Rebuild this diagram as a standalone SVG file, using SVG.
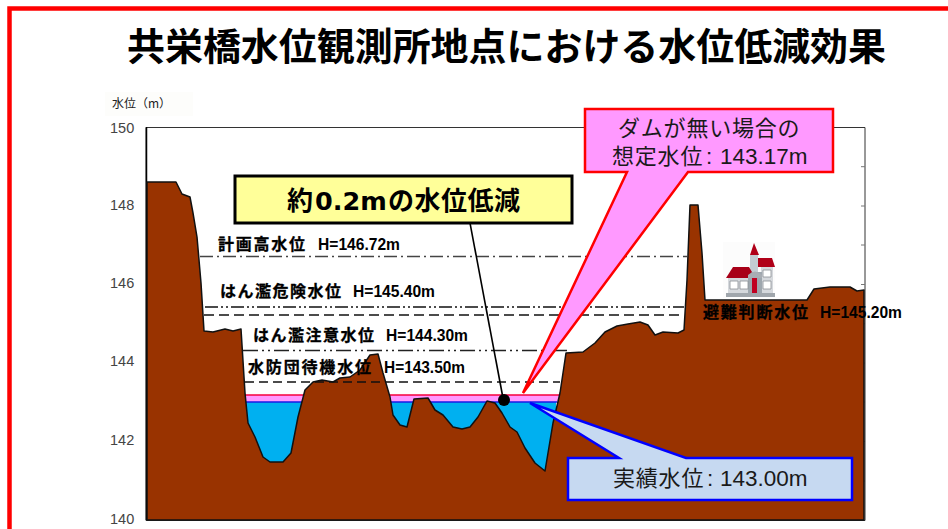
<svg xmlns="http://www.w3.org/2000/svg" width="948" height="529" viewBox="0 0 948 529">
<style>
text{font-family:"Liberation Sans","Noto Sans CJK JP",sans-serif;fill:#111}
.jp{font-family:"Noto Sans CJK JP","Liberation Sans",sans-serif}
.lv{font-size:16px;font-weight:700;fill:#000;stroke:#000;stroke-width:.3}
.lh{font-size:16.500px;font-weight:700;fill:#000}
.ax{font-size:14.500px;fill:#444}
.cj{font-size:22px;fill:#1a1a1a;letter-spacing:.8px}
.cl{font-family:"Liberation Sans",sans-serif;font-size:22.500px;fill:#1a1a1a;letter-spacing:0}
.ln{fill:none;stroke-width:1.400}
</style>
<rect width="948" height="529" fill="#fff"/>
<path d="M9.500 529V8.500H948" fill="none" stroke="#f00" stroke-width="4.500"/>
<text class="jp" x="127" y="60" font-size="38" font-weight="700" textLength="759" lengthAdjust="spacingAndGlyphs" style="fill:#000">共栄橋水位観測所地点における水位低減効果</text>
<g id="axis">
<rect x="105" y="92" width="88" height="24" fill="#fdfdfb"/>
<text class="jp" x="112" y="108" font-size="12" style="fill:#222">水位（m）</text>
<text class="ax" x="110" y="133">150</text>
<text class="ax" x="110" y="210">148</text>
<text class="ax" x="110" y="288">146</text>
<text class="ax" x="110" y="366">144</text>
<text class="ax" x="110" y="445">142</text>
<text class="ax" x="110" y="524">140</text>
<path d="M146 127.500H865V520.500H146Z" fill="#fff" stroke="#333" stroke-width="1"/>
<path d="M146.500 127V520" stroke="#000" stroke-width="1.500"/>
<path d="M861 166.700h4M861 206h4M861 245h4M861 284.500h4M861 323.700h4M861 363h4M861 402h4M861 441.500h4M861 481h4" stroke="#777" stroke-width="1"/>
</g>
<g id="water">
<rect x="244" y="395" width="318" height="7" fill="#ff99ff"/>
<rect x="244" y="402" width="312" height="72" fill="#00b0f0"/>
<path d="M244 395H562" stroke="#f6003c" stroke-width="1.600"/>
<path d="M244 402H557" stroke="#1a1ae6" stroke-width="1.600"/>
</g>
<g id="terrain">
<path d="M147 182H176L182 194L190 197L193 213L197 237L201 283L204 331L213 332L225 329L233 331L241 329L245 393L248 423L255 437L263 457L270 462L283 462L291 453L298 417L305 390L313 382L322 380L333 382L340 378L350 377L360 370L370 355L378 354L383 373L390 397L393 415L400 425L407 427L414 399L428 398L435 410L443 415L453 427L462 429L470 427L478 417L487 401L495 403L502 413L510 427L517 432L525 448L535 463L545 471L553 423L560 393L566 353L583 352L595 343L605 332L617 326L628 324L640 322L648 325L655 335L663 332L678 333L684 330L687 280L690 205H698L702 253L705 300H807L814 289L830 287L850 287L857 291L864 290V520H147Z" fill="#993300" stroke="#111" stroke-width="1.500" stroke-linejoin="round"/>
</g>
<g id="levels">
<path class="ln" stroke="#444" stroke-dasharray="13 4 2 4" d="M200 256.500H687"/>
<path class="ln" stroke="#111" stroke-dasharray="13 3 2 3 2 3" d="M205 307H684"/>
<path class="ln" stroke="#111" stroke-dasharray="10 5" d="M204 315H684"/>
<path class="ln" stroke="#222" stroke-dasharray="15 4 2 4 2 4" d="M243 350.500H567"/>
<path class="ln" stroke="#111" stroke-dasharray="9 5" d="M245 382H560"/>
</g>
<g id="level-labels">
<text class="lv jp" x="218" y="250" textLength="87">計画高水位</text><text class="lh" x="318" y="250" textLength="82" lengthAdjust="spacingAndGlyphs">H=146.72m</text>
<text class="lv jp" x="220" y="297" textLength="121">はん濫危険水位</text><text class="lh" x="353" y="297" textLength="82" lengthAdjust="spacingAndGlyphs">H=145.40m</text>
<text class="lv jp" x="253" y="341" textLength="121">はん濫注意水位</text><text class="lh" x="386" y="341" textLength="82" lengthAdjust="spacingAndGlyphs">H=144.30m</text>
<text class="lv jp" x="248" y="373" textLength="123">水防団待機水位</text><text class="lh" x="384" y="373" textLength="81" lengthAdjust="spacingAndGlyphs">H=143.50m</text>
<text class="lv jp" x="703" y="318" textLength="105">避難判断水位</text><text class="lh" x="820" y="318" textLength="82" lengthAdjust="spacingAndGlyphs">H=145.20m</text>
</g>
<g id="house">
<rect x="723" y="242" width="52" height="56" fill="#fcfcfc"/>
<path d="M728 278H750V294H728Z" fill="#d5d8dc"/>
<path d="M761 267H773V294H761Z" fill="#d5d8dc"/>
<path d="M750 255H758V272H750Z" fill="#c3ccd2"/>
<path d="M748 272H762V295H748Z" fill="#9ea7ae"/>
<path d="M754 243L759 255H750Z" fill="#b00018"/>
<path d="M758 258H772L775 267H758Z" fill="#b00018"/>
<path d="M726 278L733 267H749L752 272L749 278Z" fill="#a80018"/>
<path d="M748 275Q755 268 762 275V278H748Z" fill="#a8adb3"/>
<path d="M752 278H757V294H752Z" fill="#c00020"/>
<path d="M730 281H738V289H730ZM740 281H748V289H740ZM763 281H771V289H763ZM763 270H771V277H763Z" fill="#fff" stroke="#8a8f95" stroke-width=".8"/>
<path d="M726 293H775V297H726Z" fill="#a0a6ac"/>
</g>
<g id="callout-reduction">
<path d="M470 223L503 398" stroke="#000" stroke-width="1.600"/>
<rect x="235" y="176" width="337" height="47" fill="#ffff99" stroke="#000" stroke-width="3"/>
<text class="jp" x="287" y="210" font-size="26" font-weight="700" style="fill:#000">約</text>
<text x="315" y="210" font-size="25.500" font-weight="700" style="font-family:'DejaVu Sans',sans-serif;fill:#000">0.2m</text>
<text class="jp" x="388" y="210" font-size="26" font-weight="700" textLength="132" style="fill:#000">の水位低減</text>
<circle cx="504" cy="400" r="6" fill="#000"/>
</g>
<g id="callout-nodam">
<path d="M585 109H833V172H688L523 393L627 172H585Z" fill="#ff99ff" stroke="#f00" stroke-width="2.500"/>
<text class="cj jp"><tspan x="618" y="136">ダムが無い場合の</tspan><tspan x="612" y="164">想定水位</tspan><tspan class="cl" x="706" y="164">:</tspan><tspan class="cl" x="720" y="164">143.17m</tspan></text>
</g>
<g id="callout-actual">
<path d="M568 458H619L530 403L686 458H852V500H568Z" fill="#c6d9f1" stroke="#00f" stroke-width="2.500"/>
<text class="cj jp"><tspan x="613" y="486">実績水位</tspan><tspan class="cl" x="707" y="486">:</tspan><tspan class="cl" x="720" y="486">143.00m</tspan></text>
</g>
</svg>
